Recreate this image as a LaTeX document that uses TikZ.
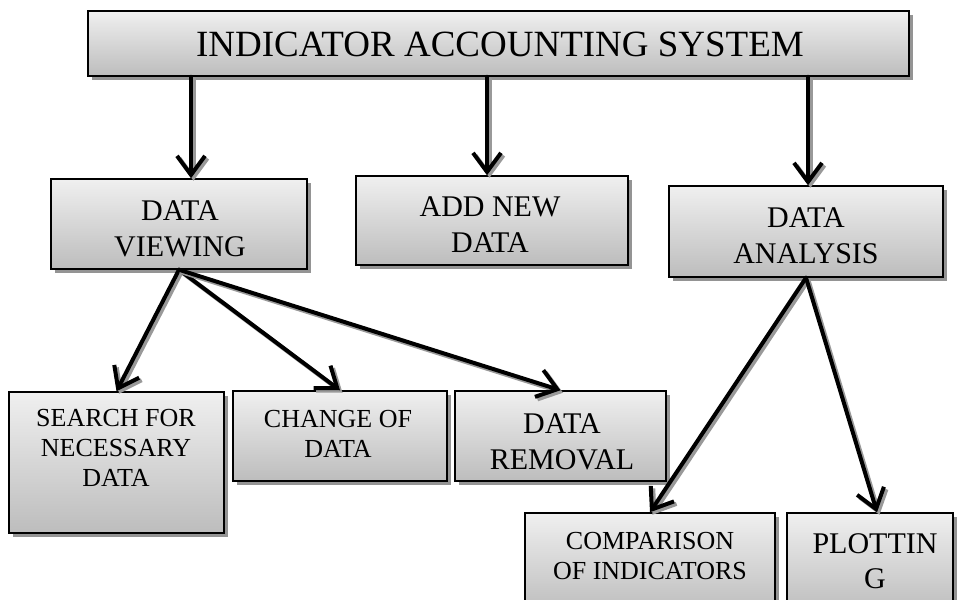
\documentclass[tikz,border=0pt]{standalone}
\usepackage{fontspec}
\setmainfont{Liberation Serif}
\usetikzlibrary{arrows.meta,shadows,calc}

\tikzset{
  box/.style={draw=black, line width=1.5pt, top color=black!6, bottom color=black!26,
    drop shadow={shadow xshift=3.5pt, shadow yshift=-3.5pt, fill=black!42, opacity=1},
    inner sep=0pt},
  txt/.style={align=center, inner sep=0pt, text=black},
  bigtxt/.style={txt, font=\fontsize{30}{36}\selectfont},
  smalltxt/.style={txt, font=\fontsize{26}{30}\selectfont},
  arrowmain/.style={draw=black, line width=4pt, line cap=round,
    -{Straight Barb[length=19pt, width=28pt, line width=4pt]}},
  arrowshade/.style={arrowmain, draw=black!40,
    transform canvas={shift={(2.5pt,-2.5pt)}}},
}

% arrow with a grey offset shadow underneath
\newcommand\shadearrow[2]{%
  \draw[arrowshade] #1 -- #2;
  \draw[arrowmain] #1 -- #2;}

\begin{document}
\begin{tikzpicture}[x=1pt, y=-1pt]
  \useasboundingbox (0,0) rectangle (962,600);
  \clip (0,0) rectangle (962,600);
  \fill[white] (0,0) rectangle (962,600);

  % boxes
  \node[box, minimum width=821pt, minimum height=65pt] (top) at (498.5,43.5) {};
  \node[box, minimum width=256pt, minimum height=90pt] (dv) at (179,224) {};
  \node[box, minimum width=272pt, minimum height=89pt] (add) at (492,220.5) {};
  \node[box, minimum width=274pt, minimum height=91pt] (da) at (806,231.5) {};
  \node[box, minimum width=215pt, minimum height=141pt] (search) at (116.5,462.5) {};
  \node[box, minimum width=214pt, minimum height=90pt] (change) at (340,436) {};
  \node[box, minimum width=211pt, minimum height=90pt] (removal) at (560.5,436) {};
  \node[box, minimum width=250pt, minimum height=100pt] (comp) at (650,563) {};
  \node[box, minimum width=166pt, minimum height=100pt] (plot) at (870,563) {};

  % labels
  \node[txt, font=\fontsize{37}{40}\selectfont] (topt) at (500,44.5) {INDICATOR ACCOUNTING SYSTEM};
  \node[bigtxt] (dvt) at (180,228.5) {DATA\\VIEWING};
  \node[bigtxt] (addt) at (490,225) {ADD NEW\\DATA};
  \node[bigtxt] (dat) at (806,235.5) {DATA\\ANALYSIS};
  \node[smalltxt] (searcht) at (116,447.5) {SEARCH FOR\\NECESSARY\\DATA};
  \node[smalltxt] (changet) at (338,434) {CHANGE OF\\DATA};
  \node[bigtxt] (removalt) at (562,441.5) {DATA\\REMOVAL};
  \node[smalltxt] (compt) at (650,556) {COMPARISON\\OF INDICATORS};
  \node[txt, font=\fontsize{30}{35}\selectfont] (plott) at (875,561.5) {PLOTTIN\\G};

  % connectors
  \shadearrow{($(dv.north|-top.south)+(12,0)$)}{($(dv.north)+(12,0)$)}
  \shadearrow{($(add.north|-top.south)+(-5,0)$)}{($(add.north)+(-5,0)$)}
  \shadearrow{($(da.north|-top.south)+(2,0)$)}{($(da.north)+(2,0)$)}
  \shadearrow{(dv.south)}{(search.north)}
  \shadearrow{(dv.south)}{(change.north)}
  \shadearrow{(dv.south)}{(removal.north)}
  \shadearrow{(da.south)}{(comp.north)}
  \shadearrow{(da.south)}{($(plot.north)+(7,0)$)}
\end{tikzpicture}
\end{document}
